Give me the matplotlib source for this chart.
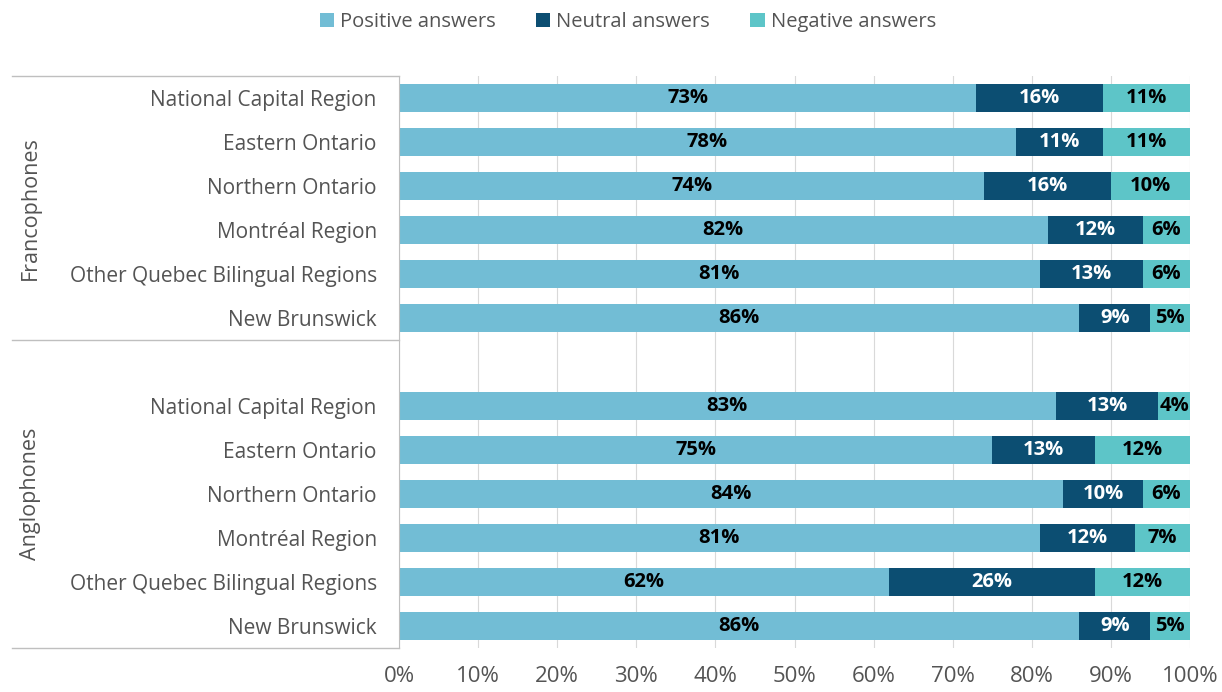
import matplotlib

matplotlib.use("Agg")
import matplotlib.pyplot as plt
from matplotlib.patches import Patch

plt.rcParams["font.family"] = ["Open Sans", "DejaVu Sans"]

regions = [
    "National Capital Region",
    "Eastern Ontario",
    "Northern Ontario",
    "Montréal Region",
    "Other Quebec Bilingual Regions",
    "New Brunswick",
]
groups = ["Francophones", "Anglophones"]

franco_positive = [73, 78, 74, 82, 81, 86]
franco_neutral = [16, 11, 16, 12, 13, 9]
franco_negative = [11, 11, 10, 6, 6, 5]

anglo_positive = [83, 75, 84, 81, 62, 86]
anglo_neutral = [13, 13, 10, 12, 26, 9]
anglo_negative = [4, 12, 6, 7, 12, 5]

series_names = ["Positive answers", "Neutral answers", "Negative answers"]
colors = ["#72BDD5", "#0C4E72", "#5DC5C8"]
label_colors = ["black", "white", "black"]

# one empty slot between the two groups
pos_franco = list(range(len(regions)))
pos_anglo = [p + len(regions) + 1 for p in pos_franco]
positions = pos_franco + pos_anglo
positive = franco_positive + anglo_positive
neutral = franco_neutral + anglo_neutral
negative = franco_negative + anglo_negative

fig = plt.figure(figsize=(12.22, 6.92), dpi=100)
ax = fig.add_axes([399 / 1222, 1 - 648 / 692, 791 / 1222, 572 / 692])

left = [0] * len(positions)
for values, color, lc in zip([positive, neutral, negative], colors, label_colors):
    bars = ax.barh(positions, values, left=left, height=0.64, color=color, zorder=2)
    for bar, v in zip(bars, values):
        ax.text(bar.get_x() + bar.get_width() / 2, bar.get_y() + bar.get_height() / 2,
                f"{v}%", ha="center", va="center", color=lc,
                fontsize=14.5, fontweight="bold", zorder=3)
    left = [l + v for l, v in zip(left, values)]

ax.set_xlim(0, 100)
ax.set_ylim(len(positions) + 0.5, -0.5)
ax.set_xticks(range(0, 101, 10))
ax.set_xticklabels([f"{t}%" for t in range(0, 101, 10)])
ax.set_yticks(positions)
ax.set_yticklabels(regions + regions)
ax.tick_params(axis="both", length=0, labelcolor="#545454")
ax.tick_params(axis="y", pad=16, labelsize=15)
ax.tick_params(axis="x", pad=13, labelsize=16)
ax.xaxis.grid(True, color="#D9D9D9", linewidth=0.8, zorder=0)
for side in ["top", "right", "bottom"]:
    ax.spines[side].set_visible(False)
ax.spines["left"].set_color("#BFBFBF")
ax.spines["left"].set_zorder(4)

# category box lines and group labels on the left
trans = ax.get_yaxis_transform()
for yline in [-0.5, len(regions) - 0.5, positions[-1] + 0.5]:
    ax.plot([-0.489, 0], [yline, yline], transform=trans, color="#BFBFBF",
            linewidth=1, clip_on=False)
group_centers = [(len(regions) - 0.5 - 0.5) / 2,
                 (len(regions) - 0.5 + positions[-1] + 0.5) / 2]
for name, yc in zip(groups, group_centers):
    ax.text(-0.466, yc, name, transform=trans, rotation=90, ha="center",
            va="center", fontsize=15.5, color="#545454")

handles = [Patch(facecolor=c, label=n) for c, n in zip(colors, series_names)]
fig.legend(handles=handles, loc="center", bbox_to_anchor=(628 / 1222, 1 - 22 / 692),
           ncol=3, frameon=False, fontsize=14.5, labelcolor="#545454",
           handlelength=0.7, handleheight=0.7, handletextpad=0.3, columnspacing=2.0)

fig.savefig("out.png", dpi=100)
